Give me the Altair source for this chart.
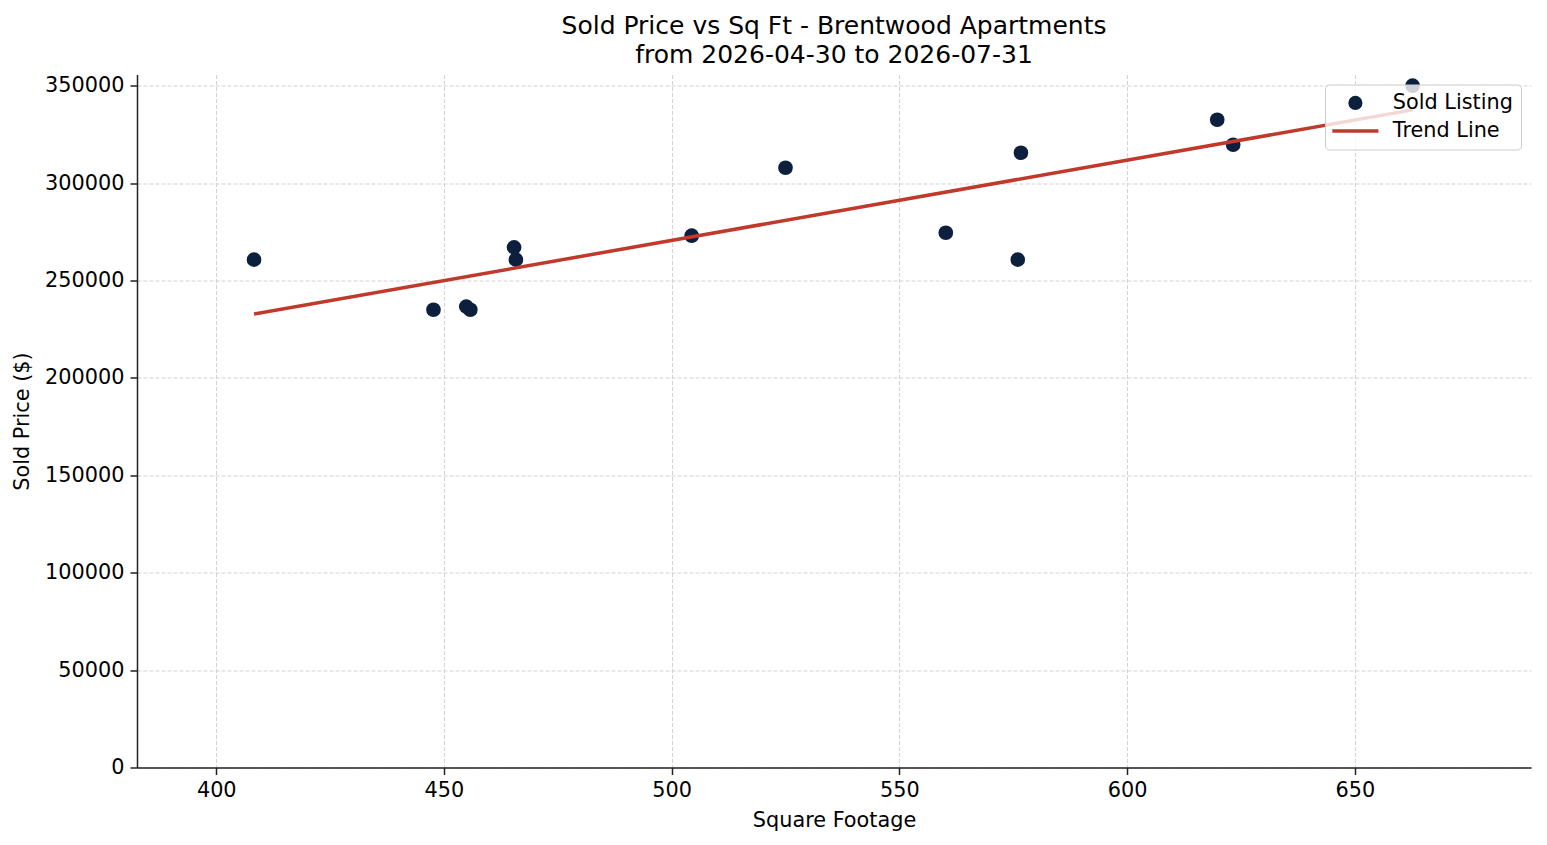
import altair as alt
import pandas as pd

# ---- data ----
sqft = [408.3, 447.7, 454.9, 455.8, 465.4, 465.8, 504.4, 525.0, 560.2, 576.0, 576.7, 619.8, 623.3, 662.7]
price = [260700, 235000, 236600, 235000, 267000, 260700, 273000, 307900, 274500, 260700, 315600, 332500, 319700, 350000]
trend_sqft = [408.3, 662.7]
trend_price = [232800, 337600]
series_names = ["Sold Listing", "Trend Line"]
series_colors = ["#0c1f3d", "#c0392b"]
x_ticks = [400, 450, 500, 550, 600, 650]
y_ticks = [0, 50000, 100000, 150000, 200000, 250000, 300000, 350000]
title_lines = ["Sold Price vs Sq Ft - Brentwood Apartments", "from 2026-04-30 to 2026-07-31"]

pts = pd.DataFrame({"sqft": sqft, "price": price, "series": series_names[0]})
trend = pd.DataFrame({"sqft": trend_sqft, "price": trend_price, "series": series_names[1]})

FONT = "DejaVu Sans"
FS = 20.8

# legend symbol shapes: a dot and a thick horizontal bar
BAR = "M-3.26,-0.25L3.26,-0.25L3.26,0.25L-3.26,0.25Z"

xs = alt.Scale(domain=[382.6, 688.7], nice=False, zero=False)
ys = alt.Scale(domain=[0, 355750], nice=False, zero=True)

x_axis = alt.Axis(values=x_ticks, format="d", title="Square Footage")
y_axis = alt.Axis(values=y_ticks, format="d", title="Sold Price ($)")

legend = alt.Legend(
    title=None,
    orient="top-right",
    offset=10,
    padding=8,
    fillColor="rgba(255,255,255,0.8)",
    strokeColor="#cccccc",
    cornerRadius=4,
    labelFont=FONT,
    labelFontSize=FS,
    labelColor="black",
    symbolSize=200,
    symbolStrokeWidth=0,
    symbolOpacity=1,
    symbolOffset=12,
    labelOffset=27,
    rowPadding=6,
)

color = alt.Color("series:N", scale=alt.Scale(domain=series_names, range=series_colors), legend=legend)
shape = alt.Shape("series:N", scale=alt.Scale(domain=series_names, range=["circle", BAR]), legend=legend)

points = alt.Chart(pts).mark_point(filled=True, size=215, opacity=1).encode(
    x=alt.X("sqft:Q", scale=xs, axis=x_axis),
    y=alt.Y("price:Q", scale=ys, axis=y_axis),
    color=color,
    shape=shape,
)

line = alt.Chart(trend).mark_line(strokeWidth=3.5, color=series_colors[1]).encode(
    x=alt.X("sqft:Q", scale=xs),
    y=alt.Y("price:Q", scale=ys),
)

chart = (
    alt.layer(points, line)
    .properties(
        width=1394,
        height=693,
        autosize=alt.AutoSizeParams(type="none"),
        padding={"left": 129, "top": 66.5, "right": 5, "bottom": 70},
        title=alt.TitleParams(
            text=title_lines,
            font=FONT,
            fontSize=25,
            fontWeight="normal",
            color="black",
            anchor="middle",
            offset=7,
            lineHeight=29,
        ),
    )
    .configure_view(strokeWidth=0)
    .configure_axis(
        labelFont=FONT,
        labelFontSize=FS,
        labelColor="black",
        titleFont=FONT,
        titleFontSize=FS,
        titleFontWeight="normal",
        titleColor="black",
        domainColor="#222222",
        domainWidth=1.5,
        tickColor="#222222",
        tickWidth=1.5,
        tickSize=7,
        labelPadding=6,
        grid=True,
        gridColor="#d3d3d3",
        gridDash=[4, 2],
        gridWidth=1,
    )
    .configure_axisX(titlePadding=10)
    .configure_axisY(titlePadding=12)
)

chart.save("out.html", embed_options={"renderer": "svg", "actions": False})
